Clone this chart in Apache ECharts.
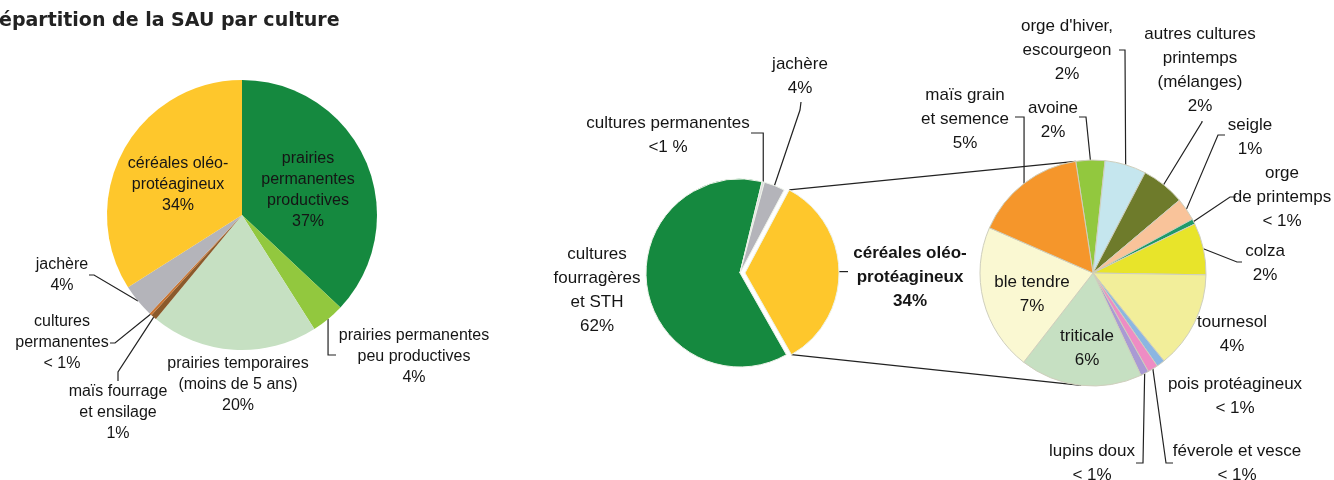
<!DOCTYPE html>
<html><head><meta charset="utf-8">
<script src="https://cdn.jsdelivr.net/npm/echarts@6/dist/echarts.min.js"></script>
<style>html,body{margin:0;padding:0;background:#fff}#c{width:1334px;height:480px}</style>
</head><body><div id="c"></div>
<script>
// ---------------- DATA ----------------
const titleText = 'épartition de la SAU par culture';

const leftNames = ['prairies\npermanentes\nproductives', 'prairies permanentes\npeu productives', 'prairies temporaires\n(moins de 5 ans)', 'maïs fourrage\net ensilage', 'cultures\npermanentes', 'jachère', 'céréales oléo-\nprotéagineux'];
const leftValues = [37, 4, 20, 0.7, 0.3, 4, 34];
const leftPctLabels = ['37%', '4%', '20%', '1%', '< 1%', '4%', '34%'];

const midNames = ['céréales oléo-\nprotéagineux', 'cultures\nfourragères\net STH', 'cultures permanentes', 'jachère'];
const midValues = [34, 62, 0.4, 3.6];
const midPctLabels = ['34%', '62%', '<1 %', '4%'];

const rightNames = ['avoine', "orge d'hiver,\nescourgeon", 'autres cultures\nprintemps\n(mélanges)', 'seigle', 'orge\nde printemps', 'colza', 'tournesol', 'pois protéagineux', 'féverole et vesce', 'lupins doux', 'triticale', 'ble tendre', 'maïs grain\net semence'];
const rightValues = [1.4, 2.0, 2.1, 1.1, 0.25, 2.5, 4.7, 0.4, 0.5, 0.4, 5.9, 7.1, 5.4];
const rightPctLabels = ['2%', '2%', '2%', '1%', '< 1%', '2%', '4%', '< 1%', '< 1%', '< 1%', '6%', '7%', '5%'];

// ---------------- STYLES ----------------
const leftColors = ['#15893f', '#92c83e', '#c6e0c2', '#8b5a2b', '#c87533', '#b4b4ba', '#fec72c'];
const midColors = ['#fec72c', '#15893f', '#dcdcdc', '#b4b4ba'];
const rightColors = ['#92c83e', '#c5e6ee', '#6e7b2b', '#f9c39a', '#1e9a6a', '#e8e42a', '#f2ee9a', '#8cb6e2', '#ee8cc4', '#a99ad4', '#c6e0c2', '#faf8d2', '#f5962b'];
const NONE = 'rgba(0,0,0,0)';

// ---------------- LAYOUT ----------------
const L = { cx: 242, cy: 215, r: 135, start: 90 };
const M = { cx: 740, cy: 273, r: 94, start: 62, offset: 5 };
const R = { cx: 1093, cy: 273, r: 113, start: 98.8 };

// label centers; line: points after the slice-edge point ('e' = same x as edge)
const leftPlace = [
  { x: 308, y: 190, inside: true },
  { x: 414, y: 357, line: [['e', 355], [336, 355]] },
  { x: 238, y: 385 },
  { x: 118, y: 413, line: [[118, 372], [118, 381]] },
  { x: 62, y: 343, line: [[115, 343], [110, 343]] },
  { x: 62, y: 275, line: [[94, 275], [89, 275]] },
  { x: 178, y: 185, inside: true }
];
const midPlace = [
  { x: 910, y: 277, line: [[848, 'e']], bold: true },
  { x: 597, y: 290 },
  { x: 668, y: 135, line: [['e', 133], [751, 133]] },
  { x: 800, y: 76, line: [[800, 110], [801, 102]] }
];
const rightPlace = [
  { x: 1053, y: 120, line: [[1086, 117], [1079, 117]] },
  { x: 1067, y: 50, line: [[1125, 50], [1119, 50]] },
  { x: 1200, y: 70, line: [[1202, 122], [1202, 121]] },
  { x: 1250, y: 137, line: [[1218, 135], [1225, 135]] },
  { x: 1282, y: 197, line: [[1230, 197], [1236, 197]] },
  { x: 1265, y: 263, line: [[1237, 262], [1242, 262]] },
  { x: 1232, y: 334 },
  { x: 1235, y: 396 },
  { x: 1237, y: 463, line: [[1166, 463], [1173, 463]] },
  { x: 1092, y: 463, line: [[1143, 463], [1136, 463]] },
  { x: 1087, y: 348, inside: true },
  { x: 1032, y: 294, inside: true },
  { x: 965, y: 119, line: [['e', 117], [1015, 117]] }
];

const TXT = '#151515';
const FONT = '"Liberation Sans", Arial, sans-serif';

function makeLayout(place) {
  return function (p) {
    const s = place[p.dataIndex];
    const out = { x: s.x, y: s.y, align: 'center', verticalAlign: 'middle' };
    if (s.line && p.labelLinePoints) {
      const e = p.labelLinePoints[0];
      out.labelLinePoints = [e].concat(s.line.map(q => [q[0] === 'e' ? e[0] : q[0], q[1] === 'e' ? e[1] : q[1]]));
    }
    return out;
  };
}

// visible: optional predicate choosing which slices are painted in this series
function buildData(names, values, pcts, colors, place, visible) {
  return names.map((n, i) => {
    const s = place[i];
    const show = visible ? visible(i) : true;
    return {
      name: n, value: values[i],
      itemStyle: show ? { color: colors[i] } : { color: NONE, borderWidth: 0 },
      label: {
        show: show,
        position: s.inside ? 'inside' : 'outside',
        formatter: n + '\n' + pcts[i],
        fontWeight: s.bold ? 'bold' : 'normal'
      },
      labelLine: { show: show && !!s.line }
    };
  });
}

function pieSeries(cfg, names, values, pcts, colors, place, extra, visible) {
  return Object.assign({
    type: 'pie',
    center: [cfg.cx, cfg.cy],
    radius: cfg.r,
    startAngle: cfg.start,
    clockwise: true,
    avoidLabelOverlap: false,
    animation: false,
    silent: true,
    emphasis: { disabled: true },
    label: { show: true, color: TXT, fontFamily: FONT, fontSize: 17, lineHeight: 24, alignTo: 'none' },
    labelLine: { show: true, length: 10, length2: 5, smooth: false, lineStyle: { color: '#222', width: 1.2 } },
    labelLayout: makeLayout(place),
    data: buildData(names, values, pcts, colors, place, visible)
  }, extra || {});
}

// connector lines between middle and right pie, computed from the data
function pt(cx, cy, r, aDeg) {
  const a = aDeg * Math.PI / 180;
  return [cx + r * Math.sin(a), cy - r * Math.cos(a)];
}
const midSum = midValues.reduce((a, b) => a + b, 0);
const yStartCW = 90 - M.start;
const ySpan = midValues[0] / midSum * 360;
const yEndCW = yStartCW + ySpan;
const yMid = yStartCW + ySpan / 2;
const offV = pt(0, 0, M.offset, yMid);
const Mx = { cx: M.cx + offV[0], cy: M.cy + offV[1], r: M.r, start: M.start };
const p1 = pt(Mx.cx, Mx.cy, M.r, yStartCW);
const p2 = pt(Mx.cx, Mx.cy, M.r, yEndCW);
const q1 = pt(R.cx, R.cy, R.r, 90 - R.start);
const q2 = pt(R.cx, R.cy, R.r, 186);

const midBorder = { borderColor: '#eef3ea', borderWidth: 1 };

const chart = echarts.init(document.getElementById('c'), null, { renderer: 'canvas' });
chart.setOption({
  backgroundColor: '#ffffff',
  animation: false,
  graphic: [
    { type: 'text', left: -1, top: 12, style: { text: titleText, font: 'bold 19px "DejaVu Sans", Verdana, sans-serif', fill: '#222' } },
    { type: 'polyline', shape: { points: [p1, q1] }, style: { stroke: '#222', lineWidth: 1.2, fill: null }, z: 1 },
    { type: 'polyline', shape: { points: [p2, q2] }, style: { stroke: '#222', lineWidth: 1.2, fill: null }, z: 1 }
  ],
  series: [
    pieSeries(L, leftNames, leftValues, leftPctLabels, leftColors, leftPlace, {
      label: { show: true, color: TXT, fontFamily: FONT, fontSize: 16, lineHeight: 21, alignTo: 'none' },
      itemStyle: { borderWidth: 0 }
    }),
    // middle pie: all slices except the exploded one
    pieSeries(M, midNames, midValues, midPctLabels, midColors, midPlace, { itemStyle: midBorder }, i => i !== 0),
    // middle pie: exploded slice (same data, shifted centre)
    pieSeries(Mx, midNames, midValues, midPctLabels, midColors, midPlace, { itemStyle: midBorder }, i => i === 0),
    pieSeries(R, rightNames, rightValues, rightPctLabels, rightColors, rightPlace, {
      itemStyle: { borderColor: '#cfcfbd', borderWidth: 1 }
    })
  ]
});
</script>
</body></html>
